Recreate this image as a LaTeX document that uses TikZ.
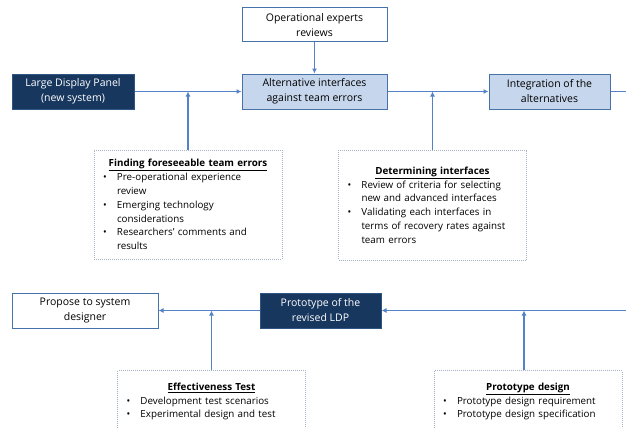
\documentclass[tikz,border=0pt]{standalone}
\usepackage{fontspec}
\setmainfont{Open Sans}
\usetikzlibrary{arrows.meta}
\definecolor{navy}{RGB}{24,55,95}
\definecolor{paleblue}{RGB}{198,214,236}
\definecolor{edgeblue}{RGB}{70,114,170}
\definecolor{lineblue}{RGB}{84,130,200}
\definecolor{dotgray}{RGB}{165,180,200}
\newcommand{\bitem}[1]{\par\hangindent=23pt\hangafter=1\noindent\hspace*{9pt}\makebox[14pt][l]{\textbullet}#1\par}
\newcommand{\boxtitle}[1]{{\centering\underline{\textbf{#1}}\par}}
\begin{document}
\begin{tikzpicture}[x=1pt, y=-1pt,
		every node/.style={font=\fontsize{10.5}{15}\selectfont, align=center, inner sep=2pt, line width=1pt},
		whitebox/.style={draw=edgeblue, fill=white, text=black},
		darkbox/.style={draw=edgeblue!50!navy, fill=navy, text=white},
		lightbox/.style={draw=edgeblue, fill=paleblue, text=black},
		notebox/.style={draw=dotgray, densely dotted, fill=white, text=black, text width=188pt, inner xsep=0pt, align=left, font=\fontsize{9.8}{13.8}\selectfont},
		link/.style={draw=lineblue, line width=1.2pt},
		arr/.style={link, -{Latex[length=5pt,width=5pt]}}]

	\fill[white] (0,0) rectangle (626,428);
	\useasboundingbox (0,0) rectangle (626,428);
	\clip (0,0) rectangle (626,428);

	\node[whitebox, minimum width=145pt, minimum height=34pt] (ops) at (314.5,25) {Operational experts\\reviews};
	\node[darkbox, minimum width=122pt, minimum height=35pt] (ldp) at (73,91.5) {Large Display Panel\\(new system)};
	\node[lightbox, minimum width=145pt, minimum height=35pt] (alt) at (314.5,91.5) {Alternative interfaces\\against team errors};
	\node[lightbox, minimum width=121pt, minimum height=35pt] (integ) at (549.5,91.5) {Integration of the\\alternatives};
	\coordinate (outR) at (626,91.5);

	\node[notebox, minimum height=109pt] (find) at (188,204.5) {\boxtitle{Finding foreseeable team errors}
		\bitem{Pre-operational experience\newline review}
		\bitem{Emerging technology\newline considerations}
		\bitem{Researchers' comments and\newline results}};
	\node[notebox, minimum height=110pt] (det) at (432.5,205) {\boxtitle{Determining interfaces}
		\bitem{Review of criteria for selecting\newline new and advanced interfaces}
		\bitem{Validating each interfaces in\newline terms of recovery rates against\newline team errors}};

	\node[whitebox, minimum width=146pt, minimum height=35pt] (prop) at (85,310.5) {Propose to system\\designer};
	\node[darkbox, minimum width=121pt, minimum height=35pt] (proto) at (320.5,310.5) {Prototype of the\\revised LDP};
	\coordinate (inR) at (626,310.5);

	\node[notebox, minimum height=62pt, anchor=north] (eff) at (211.5,370) {\boxtitle{Effectiveness Test}
		\bitem{Development test scenarios}
		\bitem{Experimental design and test}};
	\node[notebox, minimum height=62pt, anchor=north] (pdes) at (528,370) {\boxtitle{Prototype design}
		\bitem{Prototype design requirement}
		\bitem{Prototype design specification}};

	\draw[arr] (ops) -- (alt);
	\draw[arr] (ldp) -- (alt);
	\draw[arr] (find) -- (find |- ldp);
	\draw[arr] (alt) -- (integ);
	\draw[arr] (det) -- (det |- alt);
	\draw[link] (integ) -- (outR);
	\draw[arr] (inR) -- (proto);
	\draw[arr] (proto) -- (prop);
	\draw[arr] (eff) -- (eff |- prop);
	\draw[arr] ([xshift=-4pt]pdes.north) -- ([xshift=-4pt]pdes.north |- proto);
\end{tikzpicture}
\end{document}
